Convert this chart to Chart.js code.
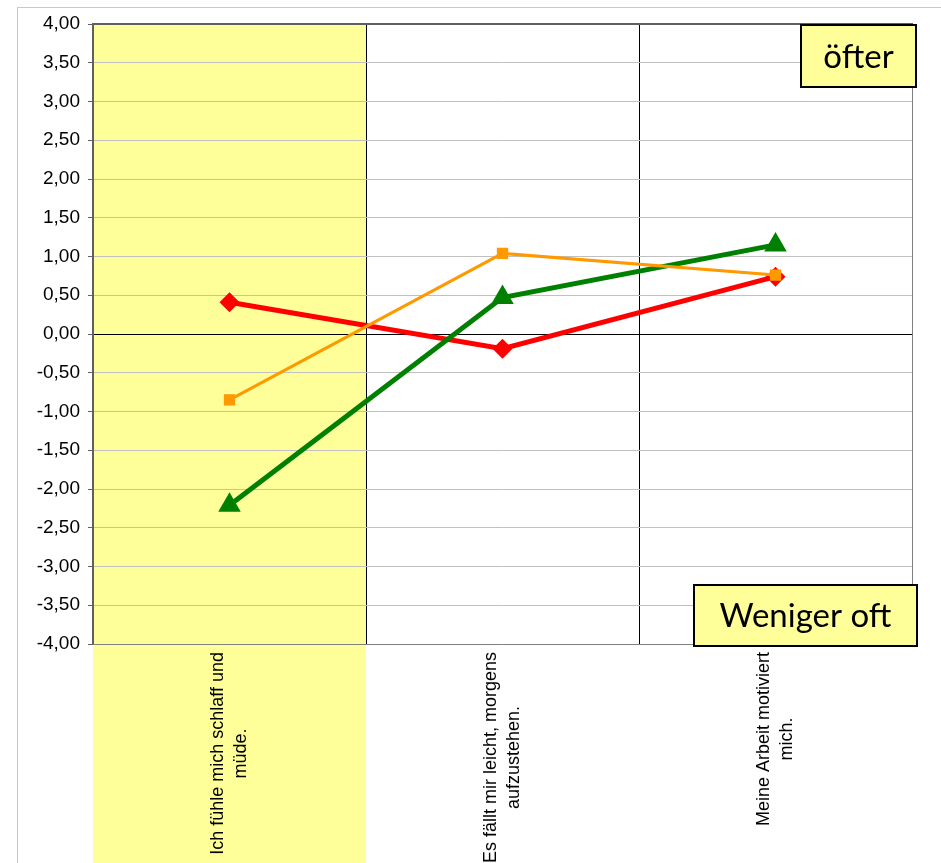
<!DOCTYPE html>
<html>
<head>
<meta charset="utf-8">
<script src="https://cdn.jsdelivr.net/npm/chart.js@4"></script>
<style>
  body { margin: 0; background: #fff; }
  #wrap { width: 941px; height: 863px; }
</style>
</head>
<body>
<div id="wrap"><canvas id="lineChart"></canvas></div>
<script>
// category labels (multi-line, rotated under the axis)
const categories = [
  ["Ich fühle mich schlaff und", "müde."],
  ["Es fällt mir leicht, morgens", "aufzustehen."],
  ["Meine Arbeit motiviert", "mich."],
];
const redValues = [0.41, -0.19, 0.74];
const orangeValues = [-0.85, 1.04, 0.76];
const greenValues = [-2.21, 0.47, 1.15];
const yMin = -4;
const yMax = 4;
const yStep = 0.5;
const topNote = "öfter";
const bottomNote = "Weniger oft";

// background: frame and the yellow highlighted first column
const backgroundPlugin = {
  id: "background",
  beforeDraw(chart) {
    const { ctx, chartArea: a, scales } = chart;
    const x = scales.x;
    ctx.save();
    ctx.fillStyle = "#fff";
    ctx.fillRect(0, 0, chart.width, chart.height);
    ctx.strokeStyle = "#c8c8c8";
    ctx.lineWidth = 1;
    ctx.strokeRect(17.5, 7.5, chart.width, chart.height);
    const edge = (x.getPixelForValue(0) + x.getPixelForValue(1)) / 2;
    ctx.fillStyle = "#ffff99";
    ctx.fillRect(a.left, a.top, edge - a.left, chart.height - a.top);
    ctx.restore();
  },
};

function drawNote(ctx, text, left, top, right, bottom) {
  ctx.fillStyle = "#ffff99";
  ctx.fillRect(left, top, right - left, bottom - top);
  ctx.strokeStyle = "#000";
  ctx.lineWidth = 2;
  ctx.strokeRect(left, top, right - left, bottom - top);
  ctx.fillStyle = "#000";
  ctx.font = "33px Lato, 'DejaVu Sans', sans-serif";
  ctx.textAlign = "center";
  ctx.textBaseline = "middle";
  ctx.fillText(text, (left + right) / 2, (top + bottom) / 2 + 1);
}

// plot border, rotated category labels and the two notes
const overlayPlugin = {
  id: "overlay",
  afterDraw(chart) {
    const { ctx, chartArea: a, scales } = chart;
    const x = scales.x;
    ctx.save();
    // borders
    ctx.strokeStyle = "#808080";
    ctx.lineWidth = 1;
    ctx.beginPath();
    ctx.moveTo(a.right + 0.5, a.top);
    ctx.lineTo(a.right + 0.5, a.bottom + 0.5);
    ctx.lineTo(a.left, a.bottom + 0.5);
    ctx.stroke();
    ctx.strokeStyle = "#606060";
    ctx.lineWidth = 2;
    ctx.beginPath();
    ctx.moveTo(a.left, a.bottom);
    ctx.lineTo(a.left, a.top);
    ctx.lineTo(a.right + 1, a.top);
    ctx.stroke();

    // category labels, read bottom to top, lines centred on each other
    ctx.fillStyle = "#000";
    ctx.font = "18px 'Liberation Sans', Arial, sans-serif";
    ctx.textAlign = "center";
    ctx.textBaseline = "middle";
    const lineH = 23;
    categories.forEach((lines, i) => {
      const px = x.getPixelForValue(i);
      const w = Math.max(...lines.map((l) => ctx.measureText(l).width));
      ctx.save();
      ctx.translate(px, a.bottom + 8);
      ctx.rotate(-Math.PI / 2);
      lines.forEach((l, k) => {
        ctx.fillText(l, -w / 2, (k - (lines.length - 1) / 2) * lineH);
      });
      ctx.restore();
    });

    drawNote(ctx, topNote, a.right - 111, a.top + 1, a.right + 4, a.top + 63);
    drawNote(ctx, bottomNote, a.right - 218, a.bottom - 59, a.right + 5, a.bottom + 2);
    ctx.restore();
  },
};

const ctx = document.getElementById("lineChart").getContext("2d");
new Chart(ctx, {
  type: "line",
  data: {
    labels: categories,
    datasets: [
      {
        label: "Reihe 1",
        data: redValues,
        borderColor: "#ff0000",
        backgroundColor: "#ff0000",
        borderWidth: 5,
        pointStyle: "rectRot",
        pointRadius: 10,
        pointBorderWidth: 0,
        order: 3,
      },
      {
        label: "Reihe 2",
        data: orangeValues,
        borderColor: "#ff9900",
        backgroundColor: "#ff9900",
        borderWidth: 3,
        pointStyle: "rect",
        pointRadius: 8,
        pointBorderWidth: 0,
        order: 1,
      },
      {
        label: "Reihe 3",
        data: greenValues,
        borderColor: "#008000",
        backgroundColor: "#008000",
        borderWidth: 5,
        pointStyle: "triangle",
        pointRadius: 13,
        pointBorderWidth: 0,
        order: 2,
      },
    ],
  },
  options: {
    responsive: true,
    maintainAspectRatio: false,
    animation: false,
    layout: { padding: { top: 24, right: 29, left: 0, bottom: 0 } },
    elements: { line: { tension: 0 } },
    plugins: {
      legend: { display: false },
      tooltip: { enabled: false },
    },
    scales: {
      x: {
        offset: true,
        grid: { offset: true, color: "#000", lineWidth: 1, drawTicks: false },
        border: { display: false },
        ticks: { display: false },
        afterFit: (scale) => {
          scale.height = 219;
        },
      },
      y: {
        min: yMin,
        max: yMax,
        grid: {
          color: (c) => (c.tick && c.tick.value === 0 ? "#000" : "#c0c0c0"),
          tickColor: "#606060",
          tickLength: 5,
        },
        border: { display: false },
        ticks: {
          stepSize: yStep,
          padding: 8,
          color: "#000",
          font: { family: "'Liberation Sans', Arial, sans-serif", size: 19 },
          callback: (v) => v.toFixed(2).replace(".", ","),
        },
        afterFit: (scale) => {
          scale.width = 93;
        },
      },
    },
  },
  plugins: [backgroundPlugin, overlayPlugin],
});
</script>
</body>
</html>
